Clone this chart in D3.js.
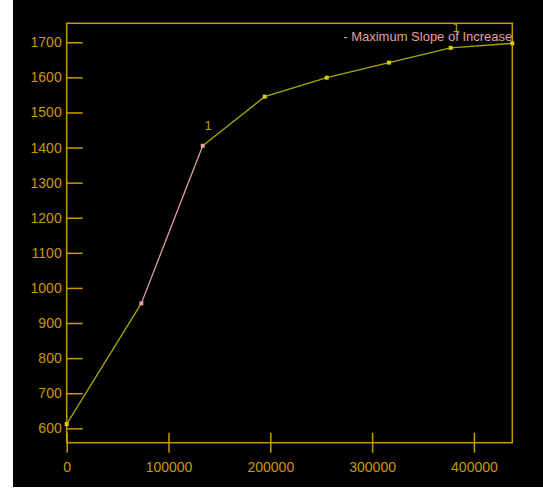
<!DOCTYPE html>
<html lang="en">
<head>
<meta charset="UTF-8">
<title>Maximum Slope of Increase</title>
<style>
	body { margin: 0; background: #fff; }
	#chart { position: absolute; left: 13px; top: 0; }
	.axis text { font-family: "Liberation Sans", Arial, sans-serif; font-size: 14px; fill: #c89a00; }
	.axis line { stroke: #c89a00; stroke-width: 1.5; }
</style>
</head>
<body>
<div id="chart"></div>
<script src="https://d3js.org/d3.v7.min.js"></script>
<script>
// values
var xs = [0, 73300, 133600, 194500, 255400, 316600, 377200, 437700];
var ys = [612, 956, 1405, 1545, 1599, 1642, 1684, 1697];
var yTicks = [600, 700, 800, 900, 1000, 1100, 1200, 1300, 1400, 1500, 1600, 1700];
var xTicks = [0, 100000, 200000, 300000, 400000];
var steepest = [1, 2];          // indexes of the max slope segment
var labelled = [2, 6];          // points marked with "1"
var legendText = "- Maximum Slope of Increase";

var W = 530, H = 487;
var margin = {top: 23.3, right: 30.7, bottom: 44.3, left: 53.7},
	width = W - margin.left - margin.right,
	height = H - margin.top - margin.bottom;

var gold = "#c89a00", olive = "#a8a800", pink = "#e0a0a0";

var svg = d3.select("#chart")
	.append("svg")
	.attr("width", W)
	.attr("height", H)
	.style("background", "#000");

var g = svg.append("g")
	.attr("transform", "translate(" + margin.left + "," + margin.top + ")");

var xScale = d3.scaleLinear().domain([0, 437700]).range([0, width]);
var yScale = d3.scaleLinear().domain([559, 1754]).range([height, 0]);

// y axis, ticks point inwards
var yAxis = g.append("g").attr("class", "axis")
	.call(d3.axisLeft(yScale).tickValues(yTicks).tickSize(-16).tickPadding(5).tickFormat(d3.format("d")));
yAxis.select(".domain").remove();

// x axis, ticks cross the line
var xAxis = g.append("g").attr("class", "axis")
	.attr("transform", "translate(0," + height + ")")
	.call(d3.axisBottom(xScale).tickValues(xTicks).tickSize(10).tickPadding(9).tickFormat(d3.format("d")));
xAxis.select(".domain").remove();
xAxis.selectAll(".tick line").attr("y1", -10);

// frame
g.append("rect")
	.attr("width", width)
	.attr("height", height)
	.attr("fill", "none")
	.attr("stroke", gold)
	.attr("stroke-width", 1.5);

var pts = xs.map((x, i) => ({x: x, y: ys[i], i: i}));

var line = d3.line()
	.x(d => xScale(d.x))
	.y(d => yScale(d.y));

// segments, the steepest one in pink
for (var i = 0; i < pts.length - 1; i++) {
	var hot = (i === steepest[0]);
	g.append("path")
		.datum([pts[i], pts[i + 1]])
		.attr("fill", "none")
		.attr("stroke", hot ? pink : olive)
		.attr("stroke-width", 1.3)
		.attr("d", line);
}

g.selectAll(".pt")
	.data(pts)
	.enter().append("rect")
	.attr("class", "pt")
	.attr("x", d => xScale(d.x) - 2)
	.attr("y", d => yScale(d.y) - 2)
	.attr("width", 4)
	.attr("height", 4)
	.attr("fill", d => steepest.indexOf(d.i) >= 0 ? pink : "#d0d000");

g.selectAll(".lbl")
	.data(pts.filter(d => labelled.indexOf(d.i) >= 0))
	.enter().append("text")
	.attr("x", d => xScale(d.x) + 5.5)
	.attr("y", d => yScale(d.y) - 16)
	.attr("text-anchor", "middle")
	.style("font-family", "Liberation Sans, Arial, sans-serif")
	.style("font-size", "13px")
	.attr("fill", olive)
	.text("1");

g.append("text")
	.attr("x", width)
	.attr("y", 17.3)
	.attr("text-anchor", "end")
	.style("font-family", "Liberation Sans, Arial, sans-serif")
	.style("font-size", "13px")
	.attr("fill", pink)
	.text(legendText);
</script>
</body>
</html>
